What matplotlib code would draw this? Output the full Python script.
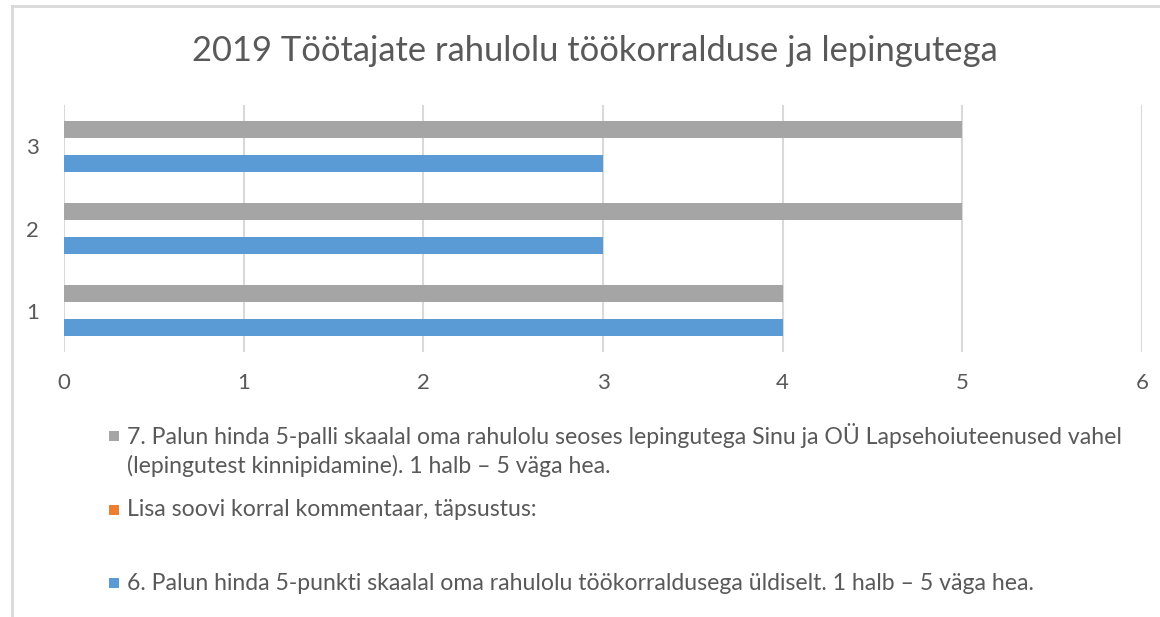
import matplotlib
matplotlib.use('Agg')
import matplotlib.pyplot as plt
from matplotlib.patches import Rectangle
from matplotlib.lines import Line2D
import numpy as np

plt.rcParams['font.family'] = ['Lato', 'DejaVu Sans']

# andmed
kategooriad = [1, 2, 3]
lepingud = [4, 5, 5]          # küsimus 7 (hall)
kommentaar = [0, 0, 0]        # lisa kommentaar (oranž)
tookorraldus = [4, 3, 3]      # küsimus 6 (sinine)
x_ticks = [0, 1, 2, 3, 4, 5, 6]

pealkiri = "2019 Töötajate rahulolu töökorralduse ja lepingutega"
legendi_tekstid = [
    ["7. Palun hinda 5-palli skaalal oma rahulolu seoses lepingutega Sinu ja OÜ Lapsehoiuteenused vahel",
     "(lepingutest kinnipidamine). 1 halb – 5 väga hea."],
    ["Lisa soovi korral kommentaar, täpsustus:"],
    ["6. Palun hinda 5-punkti skaalal oma rahulolu töökorraldusega üldiselt. 1 halb – 5 väga hea."],
]

sinine = '#5B9BD5'
oranz = '#ED7D31'
hall = '#A5A5A5'
tekst = '#595959'
joon = '#D9D9D9'

fig = plt.figure(figsize=(11.6, 6.17), dpi=100)
ax = fig.add_axes([0.0552, 0.4295, 0.9293, 0.4003])

h = 0.206
y = np.array(kategooriad)
ax.barh(y - h, tookorraldus, height=h, color=sinine, zorder=3)
ax.barh(y, kommentaar, height=h, color=oranz, zorder=3)
ax.barh(y + h, lepingud, height=h, color=hall, zorder=3)

ax.set_xlim(0, 6)
ax.set_ylim(0.5, 3.5)
ax.set_xticks(x_ticks)
ax.set_yticks(kategooriad)
ax.xaxis.grid(True, color=joon, linewidth=1.5, zorder=0)
ax.tick_params(length=0, labelsize=16, colors=tekst)
ax.tick_params(axis='x', pad=15)
ax.tick_params(axis='y', pad=18)
for s in ax.spines.values():
    s.set_visible(False)

fig.text(0.513, 0.917, pealkiri, ha='center', va='center', fontsize=24.8, color=tekst)

# legend käsitsi, Exceli moodi
legendi_varvid = [hall, oranz, sinine]
rea_y = [436, 510, 583]
for varv, read, y0 in zip(legendi_varvid, legendi_tekstid, rea_y):
    fig.patches.append(Rectangle((109 / 1160, 1 - (y0 + 5) / 617), 10 / 1160, 10 / 617,
                                 transform=fig.transFigure, facecolor=varv, edgecolor='none'))
    for i, rida in enumerate(read):
        fig.text(127 / 1160, 1 - (y0 + i * 30) / 617, rida, ha='left', va='center',
                 fontsize=16.6, color=tekst)

# diagrammi ala raam (ülemine ja vasak serv)
fig.add_artist(Line2D([12 / 1160, 12 / 1160], [0, 1 - 6 / 617], transform=fig.transFigure,
                      color=joon, linewidth=2))
fig.add_artist(Line2D([12 / 1160, 1], [1 - 6 / 617, 1 - 6 / 617], transform=fig.transFigure,
                      color=joon, linewidth=2))

fig.savefig('out.png', dpi=100, facecolor='white')
